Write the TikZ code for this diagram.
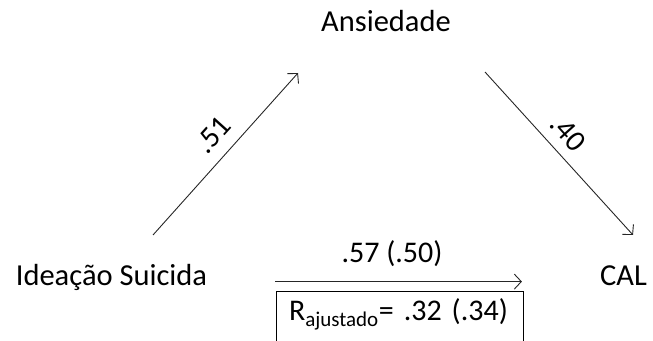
\documentclass[tikz,border=0pt]{standalone}
\usepackage{fontspec}
\setmainfont{Carlito}
\usetikzlibrary{arrows.meta}

\tikzset{
    var/.style={inner sep=0pt, anchor=base, font=\fontsize{30.5}{36}\selectfont},
    coef/.style={inner sep=0pt, font=\fontsize{30}{36}\selectfont},
    path/.style={line width=0.9pt, draw=black!85, -{Straight Barb[length=7pt,width=15pt]}},
}

\begin{document}
\begin{tikzpicture}[x=1pt,y=1pt]
        \useasboundingbox (0,0) rectangle (653,340);
        %\draw [help lines, step=20] (0,0) grid (653,340);

        % variables
        \node [var] (ansiedade) at (386,308) {Ansiedade} ;
        \node [var] (ideacao) at (111.5,54) {Ideação Suicida} ;
        \node [var] (cal) at (623.5,54) {CAL} ;

        % ends of the slanted paths
        \coordinate (a1) at (153,105);
        \coordinate (a2) at (298,267);
        \coordinate (b1) at (485,268);
        \coordinate (b2) at (633,105);

        \draw [path] (a1) -- (a2);
        \draw [path] (b1) -- (b2);
        \draw [path, shorten <=68pt, shorten >=78pt] ([yshift=2pt]ideacao.mid east) -- ([yshift=2pt]cal.mid west);

        % coefficients
        \node [coef, rotate=48] (c51) at (213,205) {.51} ;
        \node [coef, rotate=-48] (c40) at (568,207) {.40} ;
        \node [coef, anchor=base] (c57) at (392,77) {.57 (.50)} ;

        \node [draw, line width=0.9pt, anchor=north, font=\fontsize{30}{36}\selectfont,
               text width=221pt, inner xsep=13pt, inner ysep=11pt, align=left,
               text height=18pt, text depth=40pt] (ajuste) at (399.5,49)
               {R\textsubscript{ajustado}= .32 (.34)} ;
    \end{tikzpicture}
\end{document}
